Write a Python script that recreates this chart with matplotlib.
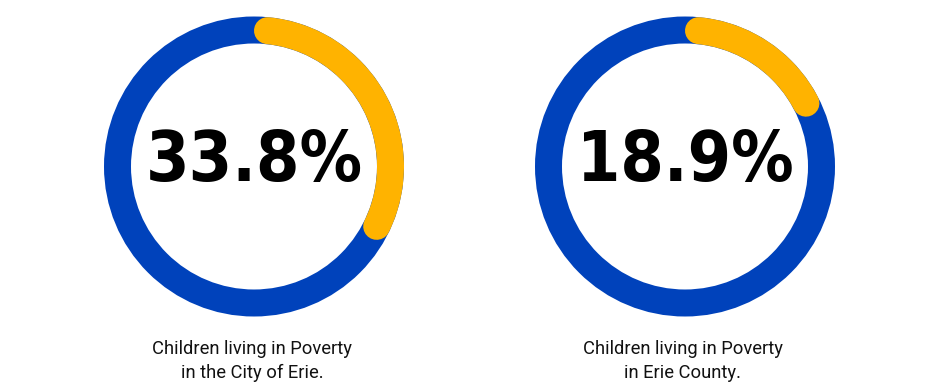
import matplotlib.pyplot as plt
from matplotlib.patches import Arc, Circle
from matplotlib import font_manager as fm

# data
labels = ["Children living in Poverty\nin the City of Erie.",
          "Children living in Poverty\nin Erie County."]
values = [33.8, 18.9]

blue = "#0042BB"
yellow = "#FFB300"


def narrow_bold():
    # narrowest bold face we can find; the original uses a very condensed font
    files = [f.fname for f in fm.fontManager.ttflist]
    for key in ("liberationsansnarrow-bold.", "dejavusanscondensed-bold."):
        for fn in files:
            if fn.lower().replace("_", "").endswith(key + "ttf"):
                return fm.FontProperties(fname=fn), key
    return fm.FontProperties(family="DejaVu Sans", weight="bold"), None


big_font, found = narrow_bold()
big_size = {"liberationsansnarrow-bold.": 56, "dejavusanscondensed-bold.": 50}.get(found, 44)

W, H = 940, 388
fig = plt.figure(figsize=(W / 100, H / 100), dpi=100)
ax = fig.add_axes([0, 0, 1, 1])
ax.set_xlim(0, W)
ax.set_ylim(0, H)
ax.set_aspect("equal")
ax.axis("off")

centers = [(254, 221.5), (685, 221.5)]
r = 136.5
lw_px = 27
lw = lw_px * 72 / 100
cap = (lw_px / 2) / r * 180 / 3.14159265

for (cx, cy), v, lab in zip(centers, values, labels):
    ax.add_patch(Circle((cx, cy), r, fill=False, ec=blue, lw=lw))
    span = v / 100 * 360
    ax.add_patch(Arc((cx, cy), 2 * r, 2 * r,
                     theta1=90 - span + cap, theta2=90 - cap,
                     color=yellow, lw=lw, capstyle="round"))
    ax.text(cx, cy + 5, "{:.1f}%".format(v), ha="center", va="center",
            fontsize=big_size, fontproperties=big_font)
    ax.text(cx - 2, 27, lab, ha="center", va="center", fontsize=13.2,
            family=["Roboto", "DejaVu Sans"], linespacing=1.4,
            color="#111111")

fig.savefig("out.png", dpi=100, facecolor="white")
